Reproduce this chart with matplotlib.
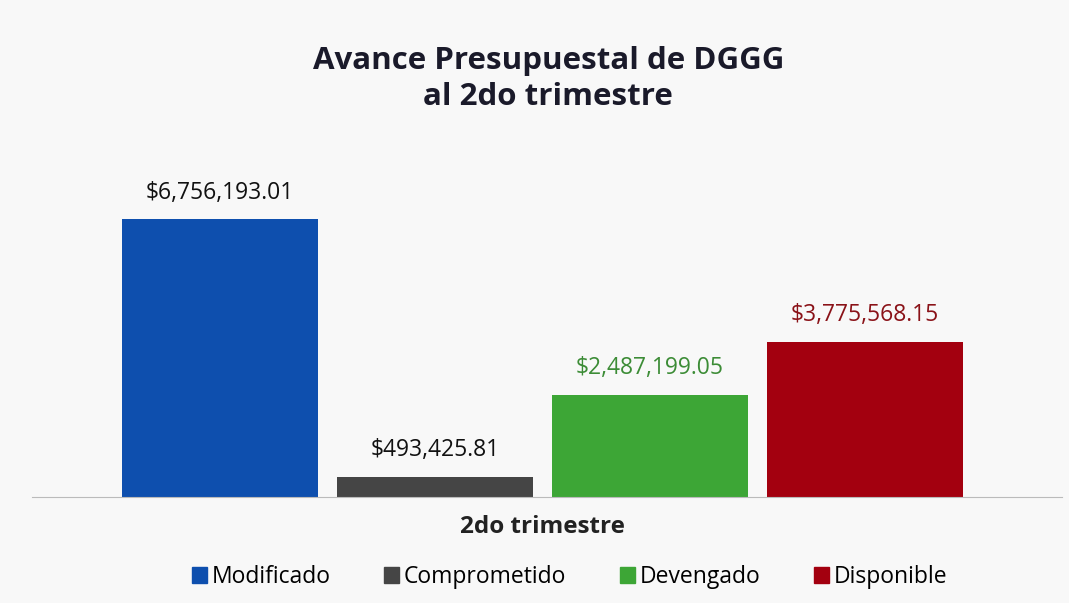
import matplotlib.pyplot as plt
from matplotlib.patches import Patch

# Datos del avance presupuestal
categorias = ['Modificado', 'Comprometido', 'Devengado', 'Disponible']
montos = [6756193.01, 493425.81, 2487199.05, 3775568.15]
colores = ['#0E4FAE', '#454545', '#3DA636', '#A3000F']
colores_texto = ['#111111', '#111111', '#3C8C36', '#8A1218']

plt.rcParams['font.family'] = ['Open Sans', 'DejaVu Sans']

fig = plt.figure(figsize=(10.69, 6.03), dpi=100)
fig.patch.set_facecolor('#F8F8F8')
ax = fig.add_axes([32 / 1069, 1 - 497 / 603, 1030 / 1069, 337 / 603])
ax.set_facecolor('none')

x = range(len(categorias))
barras = ax.bar(x, montos, width=0.912, color=colores)

for xi, val, c in zip(x, montos, colores_texto):
    ax.text(xi, val + 0.35e6, f'${val:,.2f}', ha='center', va='bottom',
            fontsize=16.5, color=c)

ax.set_xlim(-0.874, 3.916)
ax.set_ylim(0, 8.19e6)
for s in ['top', 'right', 'left']:
    ax.spines[s].set_visible(False)
ax.spines['bottom'].set_color('#BBBBBB')
ax.set_xticks([])
ax.set_yticks([])

fig.text(0.513, 1 - 79 / 603, 'Avance Presupuestal de DGGG\nal 2do trimestre',
         ha='center', va='center', fontsize=22.5, fontweight='bold',
         color='#1A1A2A', linespacing=1.28)
fig.text(0.507, 1 - 527 / 603, '2do trimestre', ha='center', va='center',
         fontsize=17.5, fontweight='bold', color='#222222')

handles = [Patch(color=c, label=l) for c, l in zip(colores, categorias)]
fig.legend(handles=handles, loc='center', bbox_to_anchor=(0.533, 1 - 577 / 603),
           ncol=4, frameon=False, fontsize=16.5, handlelength=0.65, handleheight=0.65,
           handletextpad=0.2, columnspacing=2.35)

plt.savefig('out.png', dpi=100, facecolor=fig.get_facecolor())
